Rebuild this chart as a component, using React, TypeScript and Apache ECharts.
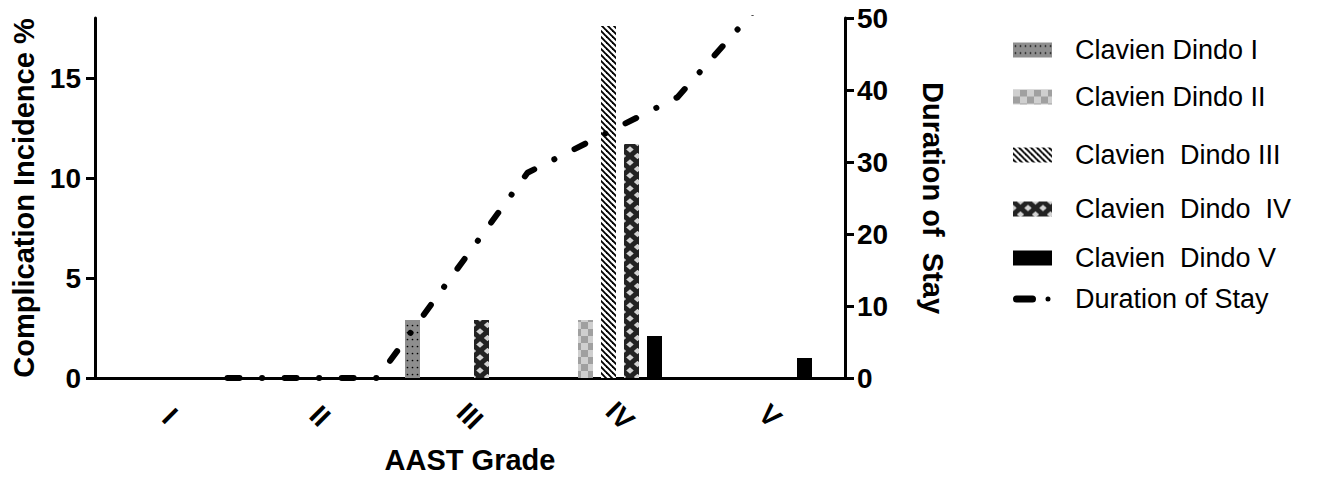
import React, { useEffect, useRef } from 'react';
import * as echarts from 'echarts';

// ---- data ----
const grades = ['I', 'II', 'III', 'IV', 'V'];
const dindoI = [0, 0, 2.9, 0, 0];
const dindoII = [0, 0, 0, 2.9, 0];
const dindoIII = [0, 0, 0, 17.6, 0];
const dindoIV = [0, 0, 2.9, 11.7, 0];
const dindoV = [0, 0, 0, 2.1, 1.0];
const durationOfStay = [0, 0, 28.5, 39, 62.5];
const leftTicks = [0, 5, 10, 15];
const seriesNames = [
  'Clavien Dindo I',
  'Clavien Dindo II',
  'Clavien  Dindo III',
  'Clavien  Dindo  IV',
  'Clavien  Dindo V',
  'Duration of Stay',
];

// ---- layout ----
const FONT = "'Liberation Sans', Arial, Helvetica, sans-serif";
const GRID_LEFT = 95;
const GRID_TOP = 18;
const GRID_W = 750;
const GRID_H = 360;
const BAR_W = 15;
const BAR_STEP = 23;
const SLOTS = 6;
const LEGEND_LEFT = 1013;
const LEGEND_CENTERS = [50, 97, 155, 209, 258, 299];
const LEGEND_FONT = 27;
const LINE_ICON =
  'path://M3.5,0 L19.5,0 A3.5,3.5 0 0 1 19.5,7 L3.5,7 A3.5,3.5 0 0 1 3.5,0 Z M35,1 A2.5,2.5 0 1 1 35,6 A2.5,2.5 0 1 1 35,1 Z';

const mod = (a: number, m: number) => ((a % m) + m) % m;

function makePattern(w: number, h: number, draw: (ctx: CanvasRenderingContext2D) => void, slot: number) {
  const c = document.createElement('canvas');
  c.width = w;
  c.height = h;
  const ctx = c.getContext('2d') as CanvasRenderingContext2D;
  draw(ctx);
  const catW = GRID_W / grades.length;
  const left = GRID_LEFT + catW / 2 + (slot - (SLOTS - 1) / 2) * BAR_STEP - BAR_W / 2;
  return {
    image: c.toDataURL(),
    repeat: 'repeat',
    imageWidth: w,
    imageHeight: h,
    x: mod(left, w),
    y: mod(GRID_TOP + GRID_H, h),
  };
}

export default function App() {
  const ref = useRef<HTMLDivElement>(null);
  useEffect(() => {
    if (!ref.current) return;
    const chart = echarts.init(ref.current, null, { renderer: 'svg' });

    const pI = makePattern(5, 7, (ctx) => {
      ctx.fillStyle = '#8e8e8e';
      ctx.fillRect(0, 0, 5, 7);
      ctx.fillStyle = '#000';
      ctx.beginPath();
      ctx.arc(2.5, 3.5, 0.85, 0, Math.PI * 2);
      ctx.fill();
    }, 0);
    const pII = makePattern(14, 14, (ctx) => {
      ctx.fillStyle = '#cfcfcf';
      ctx.fillRect(0, 0, 14, 14);
      ctx.fillStyle = '#a0a0a0';
      ctx.fillRect(7, 0, 7, 7);
      ctx.fillRect(0, 7, 7, 7);
    }, 1);
    const pIII = makePattern(6, 6, (ctx) => {
      ctx.fillStyle = '#fff';
      ctx.fillRect(0, 0, 6, 6);
      ctx.strokeStyle = '#000';
      ctx.lineWidth = 1.9;
      for (const x0 of [-6, 0, 6]) {
        ctx.beginPath();
        ctx.moveTo(x0 - 1, -1);
        ctx.lineTo(x0 + 7, 7);
        ctx.stroke();
      }
    }, 2);
    const pIV = makePattern(15, 13, (ctx) => {
      ctx.fillStyle = '#d2d2d2';
      ctx.fillRect(0, 0, 15, 13);
      ctx.strokeStyle = '#222';
      ctx.lineWidth = 5;
      ctx.beginPath();
      ctx.moveTo(-1.5, -1.3);
      ctx.lineTo(16.5, 14.3);
      ctx.moveTo(16.5, -1.3);
      ctx.lineTo(-1.5, 14.3);
      ctx.stroke();
    }, 3);

    const barColors: any[] = [pI, pII, pIII, pIV, '#000'];
    const barData = [dindoI, dindoII, dindoIII, dindoIV, dindoV];
    const catW = GRID_W / grades.length;
    const lineOffset = (((SLOTS - 1) / 2) * BAR_STEP) / catW;
    const barGap = ((BAR_STEP - BAR_W) / BAR_W) * 100 + '%';

    const axisStyle = { lineStyle: { color: '#000', width: 3 } };
    const tickStyle = { lineStyle: { color: '#000', width: 3 }, length: 9 };
    const labelStyle = { color: '#000', fontFamily: FONT, fontWeight: 'bold' as const, fontSize: 28 };
    const nameStyle = { color: '#000', fontFamily: FONT, fontWeight: 'bold' as const, fontSize: 29 };

    const series: any[] = barData.map((d, i) => ({
      type: 'bar',
      name: seriesNames[i],
      data: d,
      xAxisIndex: 0,
      yAxisIndex: 0,
      barWidth: BAR_W,
      barGap,
      itemStyle: { color: barColors[i] },
      z: 2,
    }));
    // placeholder slot for the line series in each group
    series.push({
      type: 'bar',
      name: '_slot',
      data: grades.map(() => null),
      xAxisIndex: 0,
      yAxisIndex: 0,
      barWidth: BAR_W,
      barGap,
    });
    series.push({
      type: 'line',
      name: seriesNames[5],
      data: durationOfStay.map((v, i) => [i + lineOffset, v]),
      xAxisIndex: 1,
      yAxisIndex: 1,
      symbol: 'none',
      clip: true,
      z: 5,
      lineStyle: { color: '#000', width: 6, type: [12, 22.5, 0.1, 22.5], cap: 'round', join: 'round' },
      itemStyle: { color: '#000' },
    });

    const legends = seriesNames.map((n, i) => {
      const isLine = i === 5;
      const base: any = {
        data: [n],
        orient: 'vertical',
        left: LEGEND_LEFT,
        top: LEGEND_CENTERS[i] - LEGEND_FONT / 2,
        padding: 0,
        itemWidth: isLine ? 37.5 : 39,
        itemHeight: isLine ? 7 : 15,
        icon: isLine ? LINE_ICON : 'rect',
        selectedMode: false,
        textStyle: {
          fontSize: LEGEND_FONT,
          fontFamily: FONT,
          color: '#000',
          padding: [0, 0, 0, isLine ? 19.5 : 18],
          lineHeight: LEGEND_FONT,
        },
      };
      if (isLine) base.itemStyle = { color: '#000' };
      return base;
    });

    chart.setOption({
      animation: false,
      backgroundColor: '#fff',
      grid: { left: GRID_LEFT, top: GRID_TOP, width: GRID_W, height: GRID_H, containLabel: false },
      legend: legends,
      xAxis: [
        {
          type: 'category',
          data: grades,
          boundaryGap: true,
          position: 'bottom',
          axisLine: { ...axisStyle, onZero: false },
          axisTick: { ...tickStyle, alignWithLabel: true },
          axisLabel: { ...labelStyle, rotate: -45, align: 'center', verticalAlign: 'middle', margin: 38 },
          name: 'AAST Grade',
          nameLocation: 'middle',
          nameGap: 67,
          nameTextStyle: nameStyle,
          splitLine: { show: false },
        },
        {
          type: 'value',
          min: -0.5,
          max: grades.length - 0.5,
          show: false,
          splitLine: { show: false },
        },
      ],
      yAxis: [
        {
          type: 'value',
          min: 0,
          max: 18,
          interval: 5,
          position: 'left',
          axisLine: { show: true, onZero: false, ...axisStyle },
          axisTick: { show: true, ...tickStyle, customValues: leftTicks },
          axisLabel: { ...labelStyle, margin: 14, customValues: leftTicks },
          splitLine: { show: false },
          name: 'Complication Incidence %',
          nameLocation: 'middle',
          nameRotate: 90,
          nameGap: 55,
          nameTextStyle: nameStyle,
        },
        {
          type: 'value',
          min: 0,
          max: 50,
          interval: 10,
          position: 'right',
          axisLine: { show: true, onZero: false, ...axisStyle },
          axisTick: { show: true, ...tickStyle },
          axisLabel: { ...labelStyle, margin: 12 },
          splitLine: { show: false },
          name: 'Duration of  Stay',
          nameLocation: 'middle',
          nameRotate: -90,
          nameGap: 73,
          nameTextStyle: nameStyle,
        },
      ],
      series,
    });
    return () => chart.dispose();
  }, []);
  return (
    <div
      ref={ref}
      style={{ position: 'absolute', left: 0, top: 0, width: 1327, height: 479, background: '#fff' }}
    />
  );
}
